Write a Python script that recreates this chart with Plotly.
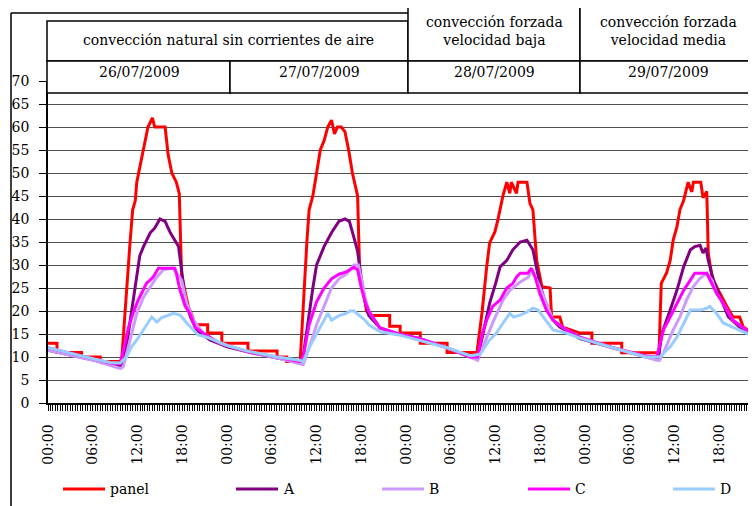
import plotly.graph_objects as go

# ---------------- data (hours since 26/07/2009 00:00) ----------------
panel_t = [0, 1.2, 1.2, 4.5, 4.5, 7, 7, 9.7, 9.9, 10.5, 11, 11.35, 11.7, 11.9, 12.3, 12.6, 13, 13.4, 14, 14.3, 15.7, 16.1, 16.6, 17.2, 17.6, 17.9, 18.4, 18.8, 19.3, 19.7, 21.4, 21.4, 23.3, 23.3, 26.8, 26.8, 30.7, 30.7, 32, 32,
           33.8, 34.3, 34.7, 35, 35.5, 36, 36.5, 37, 37.5, 38, 38.4, 38.8, 39.3, 39.8, 40.3, 40.8, 41.2, 41.5, 41.8, 42.2, 42.7, 43.2, 45.8, 45.8, 47.2, 47.2, 49.9, 49.9, 53.5, 53.5,
           57.5, 58.2, 58.8, 59.2, 59.9, 60.3, 61, 61.5, 61.9, 62.1, 62.8, 63, 64.2, 64.6, 65, 65.5, 66.2, 67.3, 67.5, 68.6, 69, 71.3, 72.9, 72.9, 76.9, 76.9,
           81.9, 82.2, 82.9, 83.4, 83.8, 84.3, 84.7, 85.2, 85.8, 86.3, 86.5, 87.5, 87.8, 88.3, 88.5, 89, 89.6, 90.3, 91, 91.8, 92.7, 93.2, 94.5, 95]
panel_v = [13, 13, 11, 11, 10, 10, 9, 9, 10, 25, 35, 42, 44, 48, 51, 54, 56.5, 60, 62, 60, 60, 54, 50, 48, 45.5, 28, 24, 21, 19, 17, 17, 15.2, 15.2, 13, 13, 11.3, 11.3, 10, 10, 9,
           9, 25, 35, 42, 45, 50, 55, 57, 60, 61.5, 58.5, 60, 60, 59, 55, 50, 47, 45, 27, 25, 20, 19, 19, 16.7, 16.7, 15.2, 15.2, 13, 13, 11,
           11, 20, 29.6, 34.8, 37.2, 39.8, 45.2, 48, 45.6, 48, 45.6, 48, 48, 43.4, 42, 31, 25.3, 25, 18.7, 18.7, 16.5, 15.2, 15.2, 13, 13, 10.9,
           10.9, 26, 28.2, 31, 35.4, 38.3, 42, 44, 48, 45.9, 48, 48, 44.6, 46, 32.6, 27.4, 25.3, 23, 21, 18.7, 18.7, 16.5, 15.2, 15]

a_t = [0, 3.6, 6.3, 8.3, 9.7, 10.3, 11.2, 11.7, 12.3, 12.8, 13.7, 14.3, 15, 15.7, 16.4, 17, 17.5, 17.9, 18.4, 19.1, 19.9, 21.7, 24, 27, 30.7, 33.7,
       34.2, 35, 35.5, 36, 37, 38, 39, 39.8, 40.4, 41, 41.5, 42, 42.5, 43, 44.5, 47, 49.9, 53.5, 56.6, 57.6,
       58.3, 59.2, 60, 60.6, 61.5, 62.3, 63.3, 64.2, 65, 65.5, 65.9, 66.8, 67.7, 68.6, 71.3, 75.7, 80.2, 81.8,
       82.3, 83.4, 84.3, 85.2, 86.1, 86.7, 87.4, 87.8, 88.2, 88.5, 89.2, 90.1, 91.2, 92.7, 94.5, 95]
a_v = [11.5, 10.3, 9.3, 8.3, 7.9, 10, 20, 24.5, 32, 34, 37, 38, 40, 39.5, 37, 35.4, 34, 29, 22.4, 18.7, 15.9, 13.7, 12.2, 11, 9.8, 8.8,
       10, 20, 25, 30, 34, 37, 39.5, 40, 39.5, 36, 33, 27, 22, 19, 16.3, 15, 14, 12, 10, 9.8,
       15, 21.7, 26, 29.6, 31, 33.3, 35, 35.4, 33.3, 29.6, 26, 21, 18, 16.5, 14, 12, 10, 9.8,
       15.2, 20.2, 24.5, 29.6, 33.3, 34, 34.3, 32.6, 33.7, 31, 26.7, 23, 18.7, 16.5, 14.8, 14.5]

b_t = [0, 3.6, 6.3, 8.3, 9.7, 10.1, 11, 11.9, 12.8, 13.7, 14.6, 15.5, 16.8, 17.9, 18.6, 19.5, 20.8, 23, 27, 30.7, 33.7,
       34.2, 35, 36, 37, 38, 39, 40, 41, 41.6, 42, 42.5, 43, 44.5, 47, 49.9, 53.5, 56.6, 57.6,
       58.3, 59.6, 61, 61.9, 63.3, 64.4, 64.8, 65.7, 66.8, 67.7, 69.5, 71.3, 75.7, 80.2, 81.6, 82,
       82.5, 83.8, 84.7, 85.6, 86.5, 87.4, 88.3, 89, 89.6, 90.5, 91.8, 93.6, 95]
b_v = [11.5, 10.2, 9.2, 8.2, 7.5, 7.9, 13.7, 19.5, 23, 25.3, 27.4, 29, 29.3, 26.7, 21.7, 18, 15.2, 13, 11, 9.8, 8.5,
       8.3, 12, 17, 21, 25, 27, 28, 30, 30, 27, 23, 20, 16.3, 15, 14, 12, 10, 9.3,
       12.2, 17.4, 22.4, 24.5, 26.3, 27.4, 29, 26, 21.7, 18, 15.9, 14.3, 12, 10, 9.3, 9.3,
       10.9, 15.9, 18.7, 22.4, 25.3, 27.1, 28.2, 26.7, 23.9, 21.7, 18, 15.9, 14.2]

c_t = [0, 3.6, 6.3, 8.3, 9.7, 9.9, 10.8, 11.4, 12.1, 13.2, 14.1, 14.8, 17, 17.2, 17.7, 18.4, 19, 19.7, 20.8, 23, 27, 30.7, 33.7,
       34.2, 35, 36, 37, 38, 39, 40, 41, 41.5, 42, 42.5, 43, 44.5, 47, 49.9, 53.5, 56.6, 57.6,
       58.2, 58.8, 59.6, 60.6, 61.5, 62.3, 62.8, 63.3, 64.3, 64.8, 65.3, 65.9, 66.8, 67.7, 69.5, 71.3, 75.7, 80.2, 81.6,
       82.5, 83.4, 84.3, 85.2, 86.1, 86.7, 88.3, 89, 89.6, 90.5, 91.8, 93.6, 95]
c_v = [12, 10.5, 9.5, 8.7, 8.5, 10, 16.5, 19.5, 22.4, 26, 27.4, 29.3, 29.3, 28.2, 24.5, 21, 19.5, 16.5, 15.2, 13, 11, 10, 9,
       10, 17, 22, 25, 27, 28, 28.5, 29.5, 29, 25, 22, 20, 16.3, 15, 14, 12, 10, 10,
       15, 18, 21, 22.4, 25, 26, 27.4, 28.2, 28.2, 29.3, 27.4, 23.9, 20.2, 18, 15.9, 14.3, 12, 10.2, 10,
       15.9, 18.7, 21.7, 24.5, 26.7, 28.2, 28.2, 26, 23.9, 21.7, 18, 15.9, 14.2]

d_t = [0, 3.6, 6.3, 8.3, 9.65, 10.5, 11.2, 11.9, 12.8, 13.9, 14.6, 15.2, 16.8, 17.7, 18.6, 19.5, 20.1, 21.3, 24, 27, 30.7, 33.7,
       34.2, 35, 36, 37, 37.5, 38, 38.5, 39, 40, 40.5, 41, 41.8, 42.5, 43, 44.5, 47, 49.9, 53.5, 56.6, 57.9,
       59.2, 60.1, 61, 61.9, 62.4, 63.3, 64.2, 65, 65.7, 66.4, 67.7, 69.5, 71.3, 75.7, 80.2, 82,
       83.4, 84.3, 85.2, 86.1, 87.4, 88.3, 88.7, 89.6, 90.5, 91.8, 93.6, 95]
d_v = [12, 10.5, 9.5, 8.8, 8.7, 10, 12.2, 13.7, 15.9, 18.7, 17.6, 18.5, 19.5, 19.1, 17.4, 15.9, 14.8, 14.3, 12.5, 11.2, 10, 9.3,
       9, 12, 15, 18, 19.5, 18, 18.5, 19, 19.5, 20, 20, 19, 18, 17, 15.5, 14.8, 13.5, 12, 10.3, 10.6,
       13.7, 15.2, 17.4, 19.5, 18.7, 19.1, 19.8, 20.6, 20.2, 18.7, 15.9, 15.2, 14.1, 12, 10, 10,
       12.2, 14.3, 17.4, 20.2, 20.2, 20.6, 21, 19.5, 17.4, 16.5, 15.2, 14]

series_names = ["panel", "A", "B", "C", "D"]
series_colors = ["#FF0000", "#800080", "#CC99FF", "#FF00FF", "#99CCFF"]
series_data = [(panel_t, panel_v), (a_t, a_v), (b_t, b_v), (c_t, c_v), (d_t, d_v)]

tick_hours = [0, 6, 12, 18, 24, 30, 36, 42, 48, 54, 60, 66, 72, 78, 84, 90]
tick_labels = ["00:00", "06:00", "12:00", "18:00"] * 4

group_labels = ["convección natural sin corrientes de aire",
                "convección forzada<br>velocidad baja",
                "convección forzada<br>velocidad media"]
date_labels = ["26/07/2009", "27/07/2009", "28/07/2009", "29/07/2009"]

# ---------------- layout helpers (page pixel coords; page has an 8px body margin) ----------------
OFF = 8
PAGE_W, PAGE_H = 756, 506
W, H = PAGE_W - OFF, PAGE_H - OFF
PL, PT, PB = 48, 81, 403          # plot area edges in page pixels
ML, MT = PL - OFF, PT - OFF
MB = PAGE_H - PB
PW = PAGE_W - PL
PH = PB - PT
FONT = "DejaVu Serif"
FS = 14


def fx(x):
    return (x - PL) / PW


def fy(y):
    return (PB - y) / PH


fig = go.Figure()
for name, color, (t, v) in zip(series_names, series_colors, series_data):
    fig.add_trace(go.Scatter(x=t, y=v, mode="lines", name=name,
                             line=dict(color=color, width=3), showlegend=False))

shapes = []
annotations = []
BLK = "#000000"

# outer chart frame (partly cropped)
shapes.append(dict(type="line", xref="paper", yref="paper", x0=fx(11), y0=fy(13), x1=fx(11), y1=fy(520),
                   line=dict(color=BLK, width=1.5)))
shapes.append(dict(type="line", xref="paper", yref="paper", x0=fx(11), y0=fy(13), x1=fx(410), y1=fy(13),
                   line=dict(color=BLK, width=1.5)))

# header table
cells = [
    (47, 21, 408, 61), (408, 4, 580, 61), (580, 4, 800, 61),
    (47, 61, 230, 93), (230, 61, 408, 93), (408, 61, 580, 93), (580, 61, 800, 93),
]
for x0, y0, x1, y1 in cells:
    shapes.append(dict(type="rect", xref="paper", yref="paper", x0=fx(x0), y0=fy(y0), x1=fx(x1), y1=fy(y1),
                       line=dict(color=BLK, width=1.5), fillcolor="white", layer="above"))

group_pos = [(228, 40), (494, 31), (668, 31)]
for txt, (x, y) in zip(group_labels, group_pos):
    annotations.append(dict(text=txt, xref="paper", yref="paper", x=fx(x), y=fy(y), showarrow=False,
                            xanchor="center", yanchor="middle", font=dict(family=FONT, size=FS, color=BLK)))
date_pos = [139, 319, 494, 668]
for txt, x in zip(date_labels, date_pos):
    annotations.append(dict(text=txt, xref="paper", yref="paper", x=fx(x), y=fy(72), showarrow=False,
                            xanchor="center", yanchor="middle", font=dict(family=FONT, size=FS, color=BLK)))

# legend (drawn manually)
leg_x = [63, 236, 382, 528, 673]
leg_y = 489
for name, color, x in zip(series_names, series_colors, leg_x):
    shapes.append(dict(type="line", xref="paper", yref="paper", x0=fx(x), x1=fx(x + 42), y0=fy(leg_y), y1=fy(leg_y),
                       line=dict(color=color, width=3)))
    annotations.append(dict(text=name, xref="paper", yref="paper", x=fx(x + 45), y=fy(leg_y), showarrow=False,
                            xanchor="left", yanchor="middle", font=dict(family=FONT, size=FS, color=BLK)))

fig.update_layout(
    width=W, height=H,
    margin=dict(l=ML, r=0, t=MT, b=MB, pad=0),
    paper_bgcolor="white", plot_bgcolor="white",
    shapes=shapes, annotations=annotations,
    font=dict(family=FONT, size=FS, color=BLK),
)
fig.update_xaxes(range=[0, 94.9], tickmode="array", tickvals=tick_hours, ticktext=tick_labels,
                 tickangle=-90, ticks="outside", ticklen=6, tickcolor=BLK, showgrid=False, zeroline=False,
                 showline=True, linecolor=BLK, linewidth=1.5, ticklabelstandoff=8,
                 tickfont=dict(family=FONT, size=FS, color=BLK),
                 minor=dict(ticks="outside", ticklen=6, dtick=1/3, tick0=0, tickcolor=BLK, showgrid=False))
fig.update_yaxes(range=[0, 70], dtick=5, tick0=0, ticks="outside", ticklen=7, tickcolor=BLK,
                 showgrid=True, gridcolor="#505050", gridwidth=1, zeroline=False,
                 showline=True, linecolor=BLK, linewidth=1.5, ticklabelstandoff=7,
                 tickfont=dict(family=FONT, size=FS, color=BLK))

fig.write_html("out.html")
